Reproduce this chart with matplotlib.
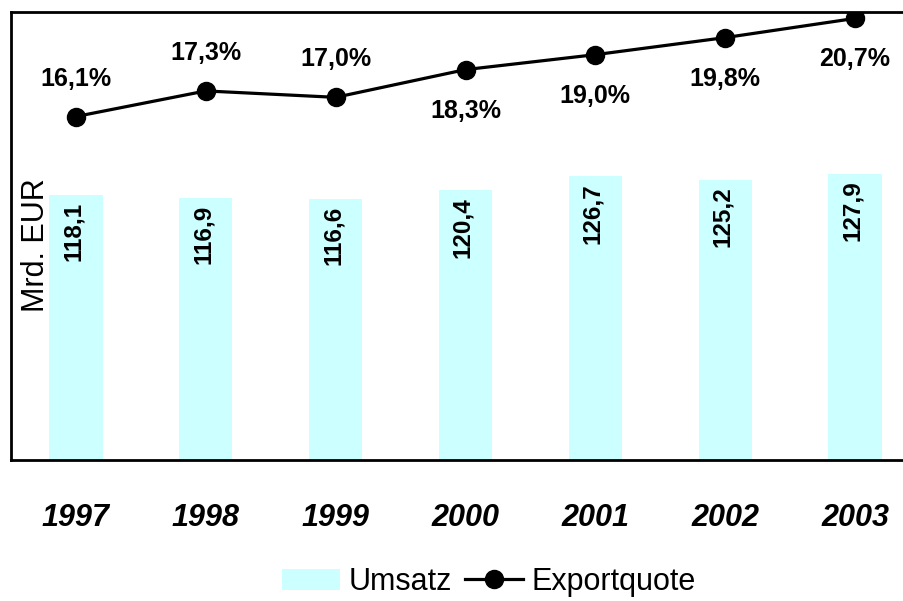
import matplotlib
matplotlib.use("Agg")
import matplotlib.pyplot as plt
from matplotlib.lines import Line2D
from matplotlib.patches import Patch

plt.rcParams['font.family'] = ['Liberation Sans', 'DejaVu Sans']

years = ["1997", "1998", "1999", "2000", "2001", "2002", "2003"]
umsatz = [118.1, 116.9, 116.6, 120.4, 126.7, 125.2, 127.9]
exportquote = [16.1, 17.3, 17.0, 18.3, 19.0, 19.8, 20.7]
umsatz_labels = ["118,1", "116,9", "116,6", "120,4", "126,7", "125,2", "127,9"]
quote_labels = ["16,1%", "17,3%", "17,0%", "18,3%", "19,0%", "19,8%", "20,7%"]
label_above = [True, True, True, False, False, False, False]

bar_color = "#CCFFFF"

fig = plt.figure(figsize=(9.04, 6.01), dpi=100)
W, H = 904, 601
ax = fig.add_axes([11 / W, (H - 460) / H, 909 / W, 448 / H])
x = list(range(len(years)))
ax.bar(x, umsatz, width=0.41, color=bar_color, zorder=1)
ax.set_xlim(-0.5, 6.5)
ax.set_ylim(0, 200)
ax.set_yticks([])
ax.set_xticks(x)
ax.set_xticklabels(years, fontsize=22, fontweight="bold", fontstyle="italic")
ax.tick_params(axis="x", length=0, pad=31)
for s in ax.spines.values():
    s.set_linewidth(2)
    s.set_color("black")
ax.spines["right"].set_visible(False)

for xi, v, lab in zip(x, umsatz, umsatz_labels):
    ax.text(xi - 0.02, v - 3, lab, rotation=90, ha="center", va="top",
            fontsize=17.5, fontweight="bold", color="black", zorder=3)

ax.text(-0.31, 96, "Mrd. EUR", rotation=90, ha="center", va="center",
        fontsize=22, color="black")

ax2 = ax.twinx()
ax2.set_ylim(0, 21)
ax2.set_yticks([])
for s in ax2.spines.values():
    s.set_visible(False)
ax2.plot(x, exportquote, color="black", linewidth=2.3, marker="o",
         markersize=13, zorder=4)
for xi, v, lab, up in zip(x, exportquote, quote_labels, label_above):
    off = 38 if up else -41
    ax2.annotate(lab, (xi, v), xytext=(0, off * 0.72), textcoords="offset points",
                 ha="center", va="center", fontsize=18, fontweight="bold",
                 color="black")

handles = [Patch(facecolor=bar_color, edgecolor="none", label="Umsatz"),
           Line2D([0], [0], color="black", linewidth=2.3, marker="o",
                  markersize=13, label="Exportquote")]
fig.legend(handles=handles, loc="center", ncol=2, frameon=False,
           bbox_to_anchor=(489 / W, 1 - 582 / H), fontsize=22,
           handlelength=1.9, handletextpad=0.3, columnspacing=0.4)

fig.savefig("out.png", dpi=100)
